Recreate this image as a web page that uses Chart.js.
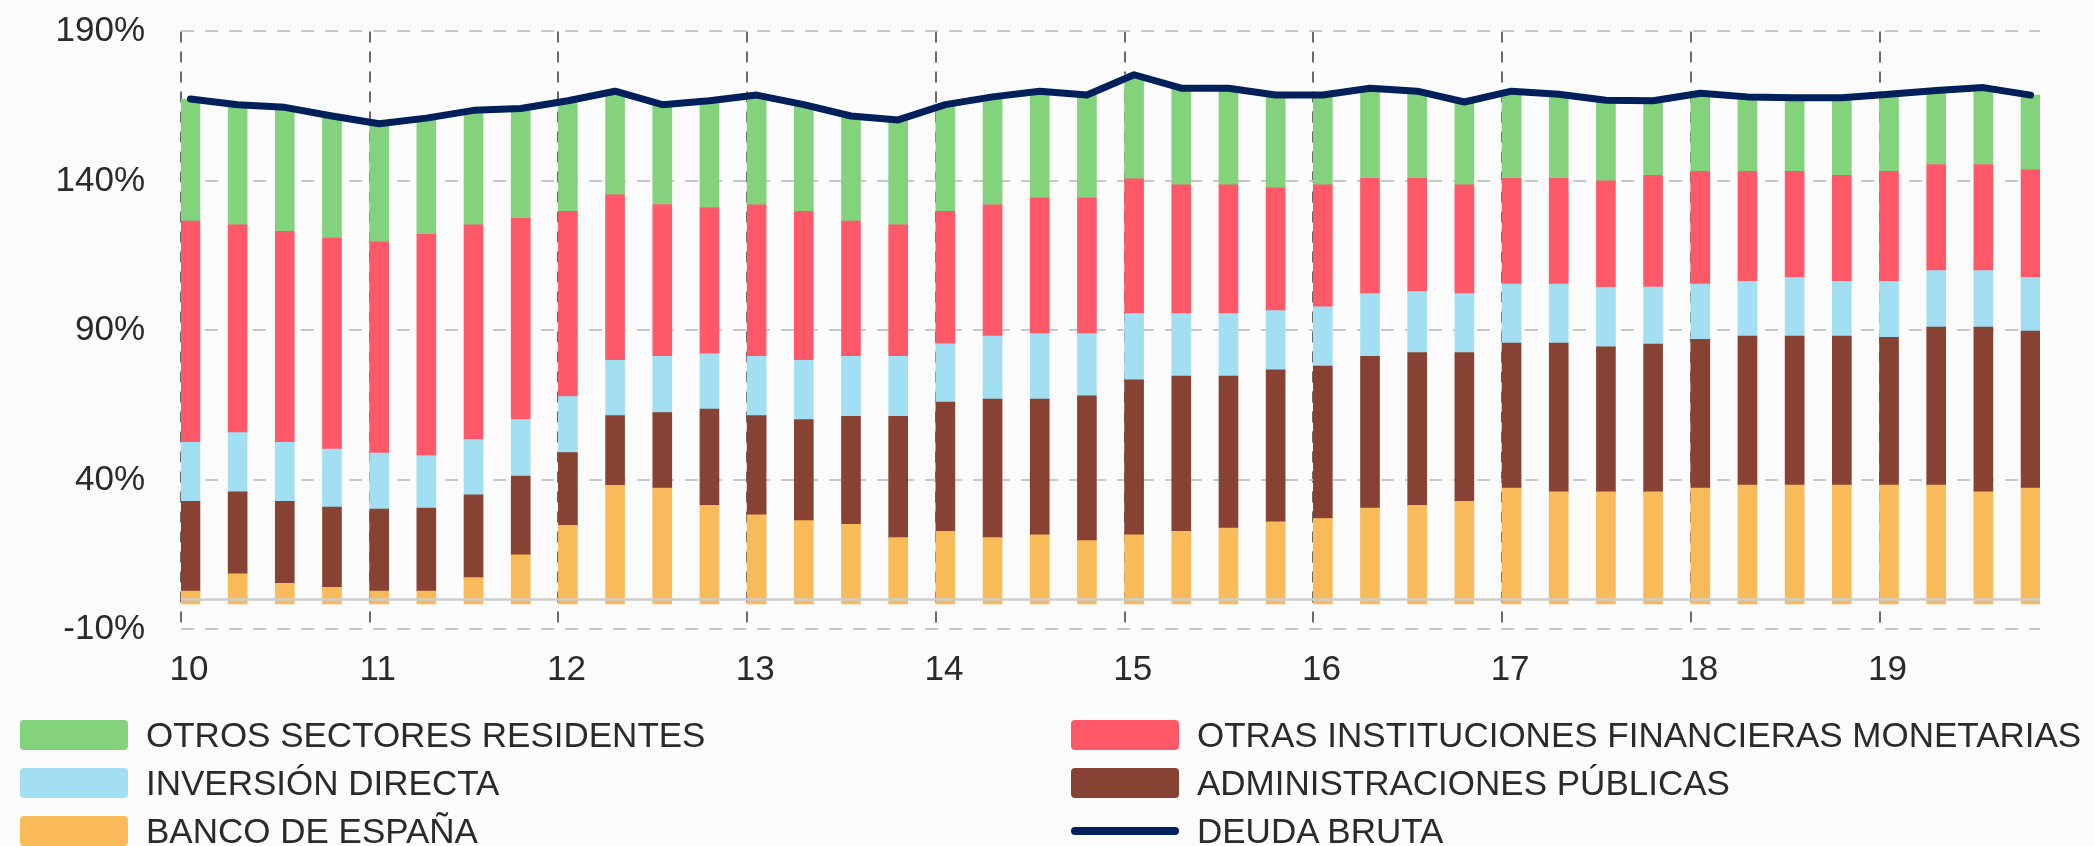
<!DOCTYPE html>
<html lang="es">
<head>
<meta charset="utf-8">
<title>Deuda externa bruta por sectores</title>
<script src="https://cdn.jsdelivr.net/npm/chart.js@4.4.1/dist/chart.umd.min.js"></script>
<style>
  body { margin: 0; background: #fbfbfb; font-family: "Liberation Sans", Arial, sans-serif; }
  #wrap { position: relative; width: 2094px; height: 846px; overflow: hidden; }
  #legend { position: absolute; left: 0; top: 711px; width: 2094px; }
  .item { position: absolute; height: 48px; display: flex; align-items: center; font-size: 35px; color: #2a2a2a; white-space: nowrap; }
  .swatch { width: 108px; height: 30px; border-radius: 4px; margin-right: 18px; }
  .swatch.line { height: 8px; }
</style>
</head>
<body>
<div id="wrap">
  <canvas id="chart" width="2094" height="846"></canvas>
  <div id="legend"></div>
</div>
<script>
const quarters = [
    '2010T1', '2010T2', '2010T3', '2010T4', '2011T1', '2011T2', '2011T3', '2011T4',
    '2012T1', '2012T2', '2012T3', '2012T4', '2013T1', '2013T2', '2013T3', '2013T4',
    '2014T1', '2014T2', '2014T3', '2014T4', '2015T1', '2015T2', '2015T3', '2015T4',
    '2016T1', '2016T2', '2016T3', '2016T4', '2017T1', '2017T2', '2017T3', '2017T4',
    '2018T1', '2018T2', '2018T3', '2018T4', '2019T1', '2019T2', '2019T3', '2019T4'
];
const yearLabels = ['10', '11', '12', '13', '14', '15', '16', '17', '18', '19'];
const yTicks = [-10, 40, 90, 140, 190];
const yTickLabels = ['-10%', '40%', '90%', '140%', '190%'];

// % del PIB
const bancoEspana = [2.8, 8.6, 5.4, 4.1, 2.8, 2.8, 7.3, 14.9, 24.8, 38.2, 37.3, 31.5, 28.3, 26.4, 25.1, 20.7, 22.8, 20.7, 21.6, 19.7,
    21.6, 22.8, 23.9, 26.0, 27.1, 30.6, 31.5, 32.8, 37.3, 36.0, 36.0, 36.0, 37.3, 38.3, 38.3, 38.3, 38.3, 38.3, 36.0, 37.3];
const admPublicas = [30.0, 27.4, 27.4, 26.8, 27.4, 27.8, 27.7, 26.4, 24.3, 23.3, 25.2, 32.2, 33.2, 33.8, 36.2, 40.6, 43.2, 46.3, 45.4, 48.4,
    51.9, 51.9, 50.8, 50.8, 51.0, 50.7, 51.1, 49.8, 48.5, 49.8, 48.5, 49.4, 49.7, 49.8, 49.8, 49.8, 49.4, 52.8, 55.1, 52.5];
const inversionDirecta = [19.8, 19.8, 19.8, 19.4, 18.8, 17.5, 18.5, 18.9, 18.8, 18.5, 18.8, 18.5, 19.8, 19.8, 20.0, 20.0, 19.5, 21.1, 21.9, 20.8,
    22.1, 20.9, 20.9, 19.8, 19.8, 21.0, 20.4, 19.7, 19.7, 19.7, 19.9, 19.1, 18.5, 18.3, 19.6, 18.3, 18.7, 18.9, 18.9, 17.9];
const otrasIFM = [74.0, 69.5, 70.5, 70.6, 70.6, 74.0, 71.8, 67.3, 61.9, 55.3, 50.8, 48.9, 50.7, 49.8, 45.3, 44.0, 44.3, 43.9, 45.4, 45.4,
    45.1, 43.1, 43.1, 41.1, 40.8, 38.6, 37.9, 36.4, 35.4, 35.4, 35.6, 37.4, 37.7, 36.8, 35.5, 35.5, 36.8, 35.5, 35.5, 36.1];
const otrosSectores = [40.8, 40.2, 41.5, 40.8, 39.5, 38.9, 38.3, 36.7, 37.0, 34.7, 33.5, 35.7, 36.7, 35.7, 35.1, 35.1, 35.7, 36.1, 35.7, 34.4,
    34.8, 32.3, 32.3, 31.0, 30.0, 30.1, 29.1, 27.7, 29.1, 28.1, 27.0, 24.9, 26.1, 24.9, 24.6, 25.9, 25.8, 24.7, 25.7, 24.9];
const deudaBruta = [167.4, 165.5, 164.6, 161.7, 159.1, 161.0, 163.6, 164.2, 166.8, 170.0, 165.5, 166.8, 168.7, 165.5, 161.7, 160.4, 165.5, 168.1, 170.0, 168.7,
    175.5, 171.0, 171.0, 168.7, 168.7, 171.0, 170.0, 166.4, 170.0, 169.0, 167.0, 166.8, 169.3, 168.1, 167.8, 167.8, 169.0, 170.2, 171.2, 168.7];

const toPoints = values => quarters.map((q, i) => ({ x: i, y: values[i] }));

function barSet(label, values, color, extra) {
    return Object.assign({
        type: 'bar',
        label: label,
        data: toPoints(values),
        backgroundColor: color,
        barThickness: 19,
        stack: 'sectores'
    }, extra || {});
}

// linea del 0 por encima de las barras
const zeroLine = {
    id: 'zeroLine',
    afterDatasetsDraw(chart) {
        const { ctx, chartArea, scales } = chart;
        const y = scales.y.getPixelForValue(0);
        ctx.save();
        ctx.strokeStyle = '#cdcdcd';
        ctx.lineWidth = 2.5;
        ctx.beginPath();
        ctx.moveTo(chartArea.left, y);
        ctx.lineTo(chartArea.right, y);
        ctx.stroke();
        ctx.restore();
    }
};

const lineSet = {
    type: 'line',
    label: 'DEUDA BRUTA',
    data: toPoints(deudaBruta),
    borderColor: '#00205b',
    borderWidth: 7,
    pointRadius: 0,
    tension: 0,
    borderJoinStyle: 'round',
    borderCapStyle: 'round',
    stack: 'total',
    order: -1
};

const datasets = [
    lineSet,
    barSet('BANCO DE ESPAÑA', bancoEspana, '#f9bb59', { base: -1.5 }),
    barSet('ADMINISTRACIONES PÚBLICAS', admPublicas, '#874233'),
    barSet('INVERSIÓN DIRECTA', inversionDirecta, '#a3dff3'),
    barSet('OTRAS INSTITUCIONES FINANCIERAS MONETARIAS', otrasIFM, '#fe5869'),
    barSet('OTROS SECTORES RESIDENTES', otrosSectores, '#83d37d')
];

const font = { family: '"Liberation Sans", Arial, sans-serif', size: 35 };

new Chart(document.getElementById('chart'), {
    data: { datasets: datasets },
    plugins: [zeroLine],
    options: {
        responsive: false,
        animation: false,
        layout: { padding: { left: 0, right: 54, top: 31.4, bottom: 136.6 } },
        plugins: { legend: { display: false }, tooltip: { enabled: false } },
        scales: {
            x: {
                type: 'linear',
                stacked: true,
                offset: false,
                min: -0.2,
                max: 39.2,
                afterBuildTicks: scale => {
                    scale.ticks = yearLabels.map((l, k) => ({ value: -0.2 + 4 * k }));
                },
                afterFit: scale => { scale.height = 80; },
                ticks: {
                    autoSkip: false,
                    callback: (value, index) => yearLabels[index],
                    labelOffset: 8,
                    padding: 20,
                    color: '#2a2a2a',
                    font: font
                },
                grid: { color: '#6a6a6a', lineWidth: 2, drawTicks: false, offset: false },
                border: { display: false, dash: [11, 9] }
            },
            y: {
                stacked: true,
                min: -10,
                max: 190,
                afterBuildTicks: scale => {
                    scale.ticks = yTicks.map(v => ({ value: v }));
                },
                afterFit: scale => {
                    scale.width = 181;
                    scale.paddingTop = 0;
                    scale.paddingBottom = 0;
                },
                ticks: {
                    callback: (value, index) => yTickLabels[index],
                    padding: 36,
                    color: '#2a2a2a',
                    font: font
                },
                grid: { color: '#c8c8c8', lineWidth: 2, drawTicks: false },
                border: { display: false, dash: [13, 11] }
            }
        }
    }
});

// leyenda en dos columnas, como en el original
const legendItems = [
    { label: 'OTROS SECTORES RESIDENTES', color: '#83d37d', col: 0, row: 0 },
    { label: 'INVERSIÓN DIRECTA', color: '#a3dff3', col: 0, row: 1 },
    { label: 'BANCO DE ESPAÑA', color: '#f9bb59', col: 0, row: 2 },
    { label: 'OTRAS INSTITUCIONES FINANCIERAS MONETARIAS', color: '#fe5869', col: 1, row: 0 },
    { label: 'ADMINISTRACIONES PÚBLICAS', color: '#874233', col: 1, row: 1 },
    { label: 'DEUDA BRUTA', color: '#00205b', col: 1, row: 2, line: true }
];
const colLeft = [20, 1071];
document.getElementById('legend').innerHTML = legendItems.map(item => `
    <div class="item" style="left:${colLeft[item.col]}px; top:${item.row * 48}px">
        <span class="swatch${item.line ? ' line' : ''}" style="background:${item.color}"></span>${item.label}
    </div>
`).join('');
</script>
</body>
</html>
